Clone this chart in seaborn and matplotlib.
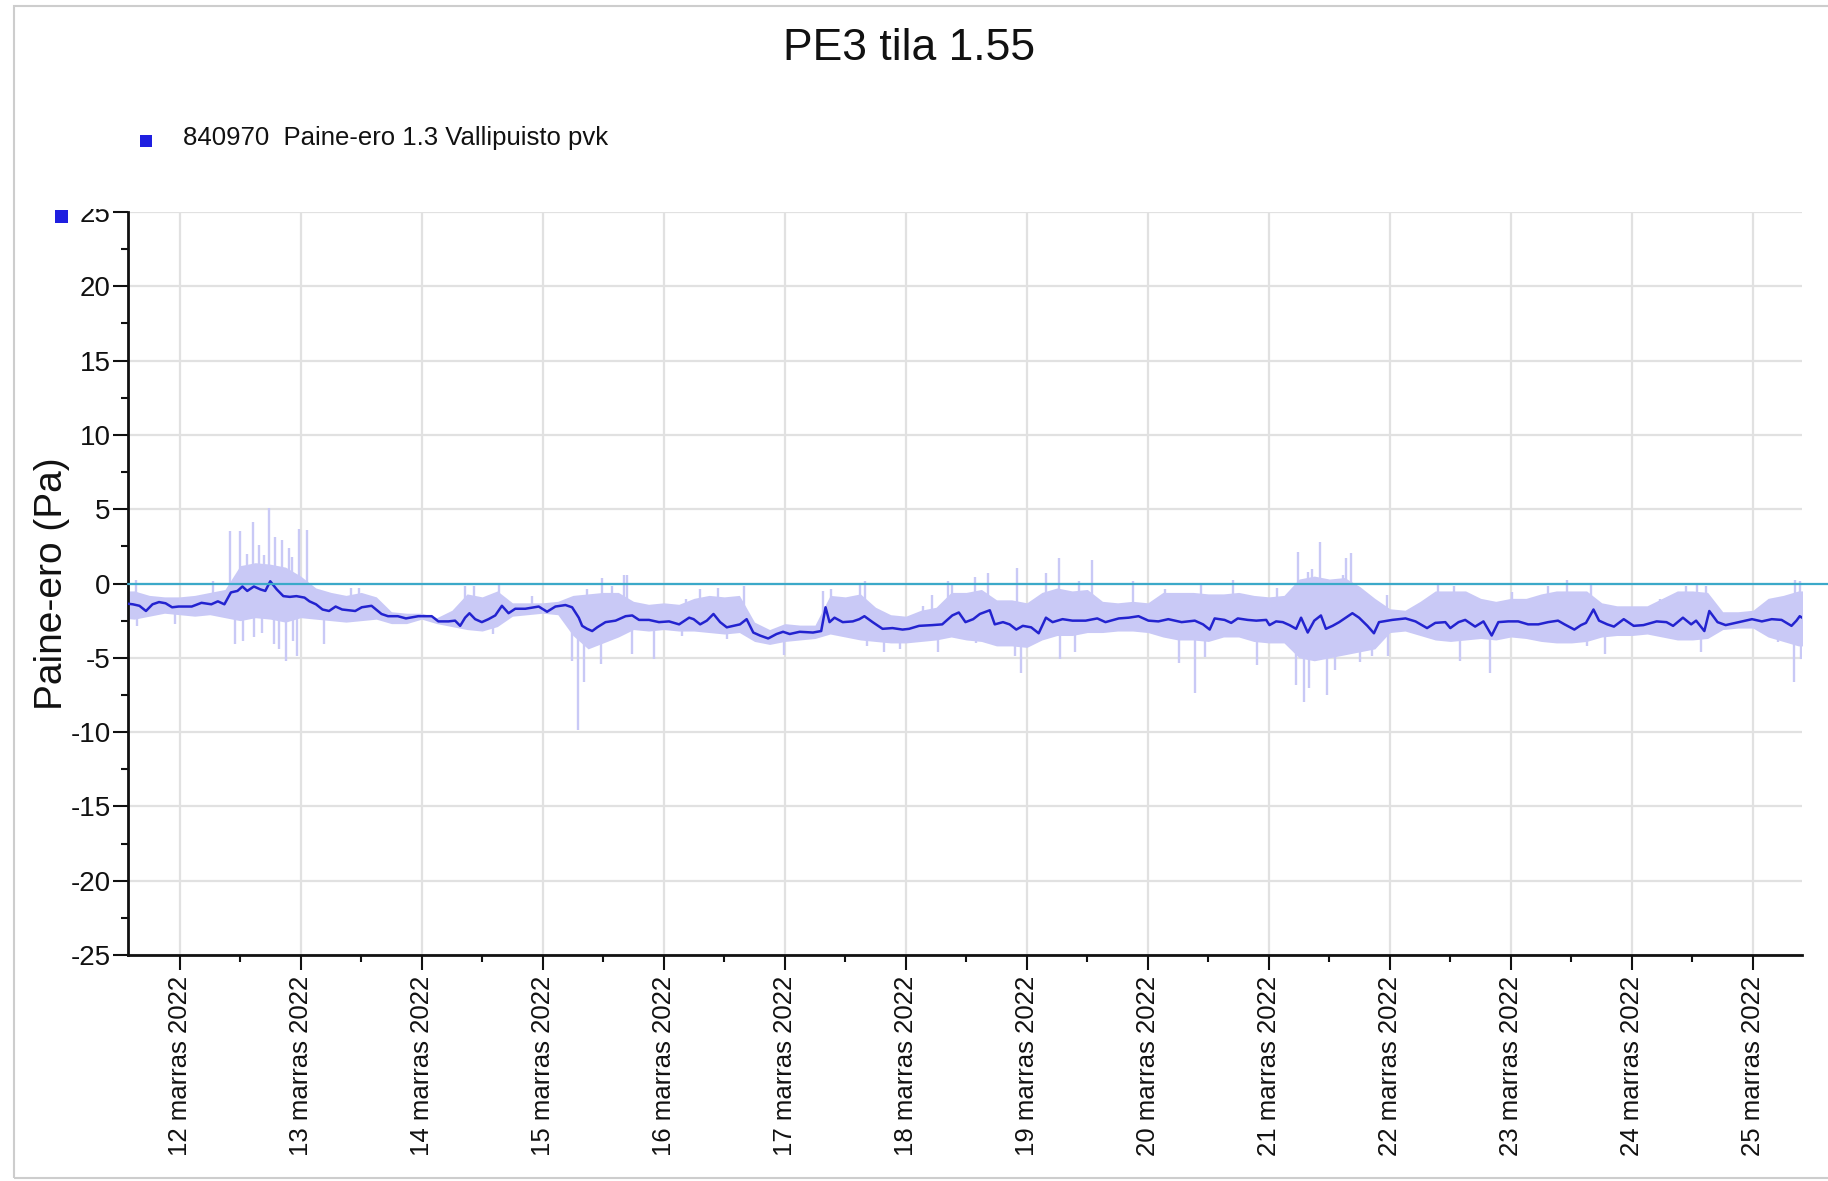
import numpy as np
import pandas as pd
import matplotlib
matplotlib.use("Agg")
import matplotlib.pyplot as plt
import matplotlib.dates as mdates
from matplotlib.ticker import MultipleLocator, FuncFormatter
from matplotlib.patches import Rectangle
import seaborn as sns

title = "PE3 tila 1.55"
series_label = "840970  Paine-ero 1.3 Vallipuisto pvk"
y_label = "Paine-ero (Pa)"
month_name = "marras"

# all times are days after 12.11.2022 00:00
day0 = "2022-11-12 00:00"

# smoothed pressure difference (Pa)
line_day = [
    -0.44, -0.386, -0.332, -0.278, -0.224, -0.170, -0.116, -0.062, -0.008, 0.100,
    0.181, 0.262, 0.316, 0.370, 0.424, 0.478, 0.519, 0.559, 0.614, 0.668,
    0.708, 0.749, 0.803, 0.857, 0.911, 0.965, 1.032, 1.073, 1.127, 1.181,
    1.235, 1.289, 1.343, 1.451, 1.505, 1.586, 1.668, 1.722, 1.803, 1.870,
    1.972, 2.083, 2.138, 2.221, 2.276, 2.318, 2.359, 2.395, 2.442, 2.497,
    2.552, 2.608, 2.663, 2.718, 2.773, 2.856, 2.967, 3.036, 3.105, 3.188,
    3.243, 3.298, 3.326, 3.367, 3.409, 3.450, 3.519, 3.602, 3.685, 3.740,
    3.796, 3.878, 3.961, 4.044, 4.127, 4.210,
    4.247, 4.301, 4.356, 4.411, 4.466, 4.521, 4.575, 4.630, 4.685, 4.740,
    4.795, 4.863, 4.932, 4.986, 5.041, 5.123, 5.233, 5.301, 5.337, 5.370,
    5.411, 5.479, 5.562, 5.616, 5.658, 5.726, 5.808, 5.890, 5.973, 6.027,
    6.110, 6.219, 6.301, 6.384, 6.438, 6.493,
    6.557, 6.612, 6.694, 6.735, 6.803, 6.858, 6.913, 6.967, 7.036, 7.098,
    7.158, 7.213, 7.295, 7.377, 7.486, 7.582, 7.650, 7.760, 7.842, 7.923,
    8.005, 8.087, 8.169, 8.279, 8.388, 8.456, 8.511, 8.552, 8.634, 8.689,
    8.743, 8.825,
    8.896, 8.978, 9.005, 9.060, 9.115, 9.170, 9.225, 9.266, 9.321, 9.375,
    9.430, 9.471, 9.526, 9.581, 9.636, 9.690, 9.745, 9.814, 9.868, 9.910,
    10.019, 10.129, 10.211, 10.307, 10.375, 10.458, 10.499, 10.567, 10.622, 10.704,
    10.773, 10.841, 10.896, 10.978, 11.060, 11.142,
    11.226, 11.307, 11.389, 11.443, 11.524, 11.579, 11.620, 11.682, 11.728, 11.796,
    11.851, 11.932, 12.014, 12.095, 12.204, 12.285, 12.340, 12.421, 12.489, 12.530,
    12.598, 12.639, 12.707, 12.774, 12.883, 12.992, 13.073, 13.155, 13.236, 13.318,
    13.359, 13.386, 13.405,
]
line_val = [
    -1.35, -1.4, -1.5, -1.85, -1.4, -1.25, -1.33, -1.6, -1.55, -1.55,
    -1.3, -1.4, -1.2, -1.4, -0.6, -0.5, -0.2, -0.5, -0.2, -0.4,
    -0.5, 0.15, -0.4, -0.85, -0.9, -0.85, -0.95, -1.2, -1.4, -1.75,
    -1.85, -1.55, -1.75, -1.85, -1.6, -1.5, -2.05, -2.2, -2.2, -2.35,
    -2.2, -2.2, -2.55, -2.55, -2.5, -2.85, -2.3, -2.0, -2.4, -2.6,
    -2.4, -2.15, -1.5, -2.0, -1.7, -1.7, -1.55, -1.9, -1.55, -1.45,
    -1.6, -2.3, -2.85, -3.05, -3.2, -2.95, -2.6, -2.5, -2.2, -2.15,
    -2.45, -2.45, -2.6, -2.55, -2.75, -2.3,
    -2.4, -2.75, -2.5, -2.05, -2.6, -2.95, -2.85, -2.75, -2.4, -3.3,
    -3.5, -3.7, -3.4, -3.25, -3.4, -3.25, -3.3, -3.2, -1.6, -2.6,
    -2.3, -2.6, -2.55, -2.4, -2.2, -2.6, -3.05, -3.0, -3.1, -3.05,
    -2.85, -2.8, -2.75, -2.15, -1.95, -2.6,
    -2.4, -2.05, -1.8, -2.75, -2.6, -2.75, -3.1, -2.85, -2.95, -3.35,
    -2.3, -2.6, -2.4, -2.5, -2.5, -2.35, -2.6, -2.35, -2.3, -2.2,
    -2.5, -2.55, -2.4, -2.6, -2.5, -2.75, -3.1, -2.35, -2.45, -2.65,
    -2.35, -2.45,
    -2.5, -2.45, -2.8, -2.55, -2.6, -2.8, -3.05, -2.3, -3.3, -2.5,
    -2.15, -3.05, -2.85, -2.6, -2.3, -2.0, -2.3, -2.85, -3.35, -2.6,
    -2.45, -2.35, -2.55, -3.0, -2.65, -2.6, -3.0, -2.6, -2.45, -2.9,
    -2.55, -3.5, -2.6, -2.55, -2.55, -2.75,
    -2.75, -2.6, -2.5, -2.75, -3.1, -2.8, -2.65, -1.75, -2.5, -2.75,
    -2.9, -2.4, -2.85, -2.8, -2.55, -2.6, -2.85, -2.3, -2.75, -2.5,
    -3.2, -1.85, -2.6, -2.8, -2.6, -2.4, -2.55, -2.4, -2.45, -2.85,
    -2.5, -2.2, -2.3,
]

# raw measurement band, 3-hourly from 11.11.2022 12:00: upper / lower edge (Pa)
band_start = "2022-11-11 12:00"
band_hi = [
    -0.5, -0.5, -0.8, -0.9, -0.9, -0.8, -0.6, -0.4, 1.2, 1.4,
    1.3, 1.1, 0.5, -0.3, -0.6, -0.8, -0.6, -0.9, -1.9, -2.0,
    -2.0, -2.3, -1.8, -0.7, -0.9, -0.5, -1.3, -1.3, -1.3, -1.2,
    -0.8, -0.7, -0.6, -0.6, -1.2, -1.4, -1.3, -1.4,
    -1.0, -0.8, -0.9, -0.8, -2.6, -3.1, -2.7, -2.8, -2.8, -0.8,
    -0.9, -0.7, -1.6, -2.1, -2.2, -1.8, -1.6, -0.6, -0.6,
    -0.4, -1.1, -1.1, -1.3, -0.6, -0.3, -0.5, -0.4, -1.2, -1.3,
    -1.2, -1.3, -0.6, -0.6, -0.6, -0.7, -0.7, -0.6,
    -0.8, -0.9, -0.8, 0.3, 0.5, 0.3, 0.4, -0.2, -1.0, -1.7,
    -1.8, -1.2, -0.5, -0.5, -0.5, -1.0, -1.2, -1.0, -1.0,
    -0.7, -0.5, -0.5, -0.5, -1.3, -1.5, -1.5, -1.5, -1.0, -0.5,
    -0.5, -0.6, -1.9, -1.9, -1.8, -1.0, -0.8, -0.5, -0.5,
]
band_lo = [
    -2.3, -2.4, -2.2, -2.0, -2.1, -2.2, -2.1, -2.3, -2.5, -2.3,
    -2.4, -2.6, -2.3, -2.4, -2.5, -2.6, -2.5, -2.4, -2.7, -2.7,
    -2.4, -2.7, -2.9, -3.1, -3.2, -2.9, -2.2, -2.1, -2.0, -2.1,
    -3.5, -4.4, -4.0, -3.6, -3.1, -3.2, -3.1, -3.2,
    -3.2, -3.3, -3.4, -3.3, -3.9, -4.1, -3.9, -3.8, -3.7, -3.4,
    -3.6, -3.8, -3.9, -4.0, -4.0, -3.9, -3.8, -3.6, -3.8,
    -3.9, -4.2, -4.2, -4.3, -3.8, -3.5, -3.5, -3.3, -3.3, -3.2,
    -3.2, -3.3, -3.6, -3.8, -3.8, -3.9, -3.6, -3.6,
    -3.9, -4.0, -4.0, -5.0, -5.2, -5.0, -4.8, -4.6, -4.4, -3.3,
    -3.2, -3.5, -3.8, -3.9, -3.8, -3.7, -3.8, -3.6, -3.7,
    -3.9, -4.0, -4.0, -3.9, -3.6, -3.5, -3.5, -3.4, -3.6, -3.8,
    -3.8, -3.7, -3.1, -3.0, -3.0, -3.6, -3.9, -4.2, -4.2,
]

# single-sample excursions of the raw signal
spike_day = [
    -0.36, -0.355, -0.035, 0.28, 0.42, 0.46, 0.50, 0.52, 0.56, 0.61,
    0.615, 0.66, 0.68, 0.70, 0.735, 0.78, 0.79, 0.82, 0.85, 0.875,
    0.90, 0.93, 0.94, 0.97, 0.99, 1.05, 1.195, 1.42, 1.48,
    2.32, 2.36, 2.43, 2.59, 2.64, 2.91, 3.24, 3.29, 3.34, 3.37,
    3.48, 3.49, 3.57, 3.67, 3.70, 3.74, 3.92, 4.15, 4.18,
    4.30, 4.45, 4.52, 4.66, 4.99, 5.32, 5.38, 5.62, 5.66, 5.68,
    5.82, 5.95, 6.14, 6.22, 6.27, 6.35, 6.38,
    6.57, 6.58, 6.68, 6.90, 6.92, 6.95, 7.16, 7.27, 7.275, 7.40,
    7.43, 7.54, 7.88, 8.14, 8.26, 8.39, 8.44, 8.47, 8.70,
    8.90, 9.07, 9.22, 9.24, 9.29, 9.32, 9.33, 9.36, 9.42, 9.48,
    9.55, 9.61, 9.64, 9.68, 9.75, 9.85, 9.98, 9.985, 10.40, 10.53,
    10.58, 10.83, 11.01,
    11.31, 11.46, 11.63, 11.66, 11.78, 12.23, 12.45, 12.54, 12.57, 12.61,
    13.21, 13.34, 13.35, 13.39, 13.395,
]
spike_val = [
    0.25, -2.85, -2.75, 0.15, 3.5, -4.05, 3.5, -3.85, 2.0, 4.15,
    -3.6, 2.6, -3.3, 1.9, 5.1, -4.05, 3.15, -4.4, 2.9, -5.2,
    2.4, 1.8, -3.9, -4.85, 3.7, 3.6, -4.05, -0.3, -0.3,
    -2.95, -0.2, -0.15, -3.4, -0.05, -0.85, -5.2, -9.85, -6.6, -0.4,
    -5.4, 0.4, -0.2, 0.6, 0.55, -4.75, -5.05, -3.5, -1.05,
    -0.4, -0.3, -3.75, -0.15, -4.8, -0.5, -0.4, -0.05, 0.2, -4.2,
    -4.6, -4.4, -1.5, -0.8, -4.6, 0.2, -0.05,
    0.45, -4.0, 0.7, -4.85, 1.05, -6.0, 0.7, 1.7, -5.05, -4.6,
    0.2, 1.55, 0.2, -0.4, -5.35, -7.35, -0.05, -4.95, 0.25,
    -5.5, -0.3, -6.85, 2.15, -7.95, 0.8, -7.05, 0.95, 2.8, -7.5,
    -5.85, 0.6, 1.7, 2.05, -5.3, -4.85, -0.75, -4.85, -0.05, -0.15,
    -5.2, -6.0, -0.6,
    -0.2, 0.25, -4.2, -0.05, -4.75, -1.05, -0.2, -0.05, -4.6, -0.15,
    -3.95, -6.65, 0.25, 0.2, -5.1,
]

light = "#c9c9f6"
dark = "#2323cf"
zero_col = "#3ba9c9"
marker_blue = "#1f1fe0"
grid_col = "#e1e1e1"

W, H = 1828, 1181

sns.set_theme(style="white")
plt.rcParams["font.family"] = ["Liberation Sans", "DejaVu Sans"]
plt.rcParams["axes.unicode_minus"] = False

t0 = pd.Timestamp(day0)
line_df = pd.DataFrame({
    "time": t0 + pd.to_timedelta(np.array(line_day), unit="D"),
    "value": line_val,
})
band_times = pd.date_range(band_start, periods=len(band_hi), freq="3h")
band_mid = (np.array(band_hi) + np.array(band_lo)) / 2

spike_times = t0 + pd.to_timedelta(np.array(spike_day), unit="D")
band_offset = (band_times[0] - t0) / pd.Timedelta(days=1)
idx = np.clip(np.rint((np.array(spike_day) - band_offset) / 0.125).astype(int), 0, len(band_hi) - 1)
spike_base = band_mid[idx]

fig = plt.figure(figsize=(W / 100, H / 100), dpi=100)
ax = fig.add_axes([128 / W, 1 - 955 / H, (1802 - 128) / W, (955 - 212) / H])

ax.fill_between(band_times, band_lo, band_hi, color=light, lw=0, zorder=2)
ax.vlines(spike_times, spike_base, spike_val, color=light, lw=1.7, zorder=2)
sns.lineplot(data=line_df, x="time", y="value", color=dark, lw=1.8, ax=ax, zorder=3)
ax.axhline(0, xmin=0, xmax=1.016, color=zero_col, lw=1.6, clip_on=False, zorder=4)

ax.set_xlim(pd.Timestamp("2022-11-11 13:46"), pd.Timestamp("2022-11-25 09:43"))
ax.set_ylim(-25, 25)

ax.xaxis.set_major_locator(mdates.DayLocator())
ax.xaxis.set_minor_locator(mdates.HourLocator(byhour=[12]))


def day_label(x, pos):
    d = mdates.num2date(x)
    return f"{d.day} {month_name} {d.year}"


ax.xaxis.set_major_formatter(FuncFormatter(day_label))
ax.yaxis.set_major_locator(MultipleLocator(5))
ax.yaxis.set_minor_locator(MultipleLocator(2.5))

ax.tick_params(axis="both", which="major", direction="out", length=11, width=1.5,
               color="#111111", bottom=True, left=True)
ax.tick_params(axis="both", which="minor", direction="out", length=5, width=1.5,
               color="#111111", bottom=True, left=True)
ax.tick_params(axis="y", which="major", labelsize=20, pad=1.5, labelcolor="#111111")
ax.tick_params(axis="x", which="major", labelsize=18.5, pad=4, labelrotation=90,
               labelcolor="#111111")

ax.grid(True, which="major", color=grid_col, lw=1.6)
ax.set_axisbelow(True)
for side in ("top", "right"):
    ax.spines[side].set_visible(False)
for side in ("left", "bottom"):
    ax.spines[side].set_color("#111111")
    ax.spines[side].set_linewidth(2)

ax.set_xlabel("")
ax.set_ylabel(y_label, fontsize=28, labelpad=0, color="#111111")

# header
fig.text(909 / W, 1 - 49 / H, title, fontsize=32, ha="center", va="center", color="#111111")
fig.add_artist(Rectangle((140 / W, 1 - 147 / H), 12 / W, 12 / H,
                         transform=fig.transFigure, color=marker_blue, lw=0))
fig.text(183 / W, 1 - 138 / H, series_label, fontsize=18.5, ha="left", va="center",
         color="#111111")

# top of the value axis: cropped label and series marker
fig.add_artist(Rectangle((30 / W, 1 - 209 / H), 95 / W, 37 / H,
                         transform=fig.transFigure, color="white", lw=0, zorder=5))
fig.add_artist(Rectangle((55 / W, 1 - 223 / H), 13 / W, 13 / H,
                         transform=fig.transFigure, color=marker_blue, lw=0, zorder=6))

# panel frame
fig.add_artist(Rectangle((14 / W, 3 / H), 1.0, 1 - 9 / H, transform=fig.transFigure,
                         fill=False, edgecolor="#cdcdcd", lw=1.5))

fig.savefig("out.png", dpi=100, facecolor="white")
